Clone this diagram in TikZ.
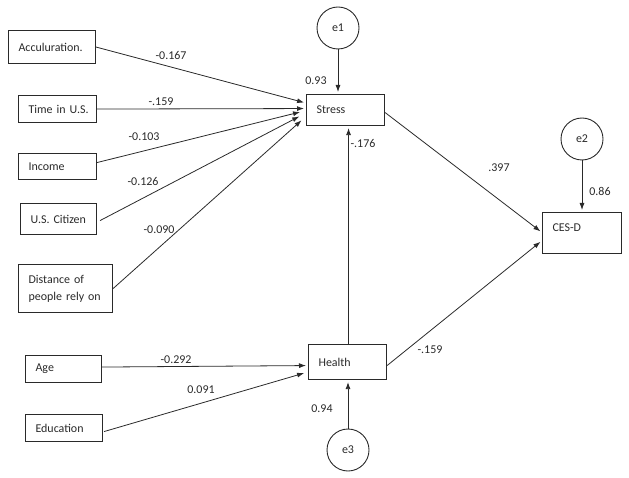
\documentclass[tikz,border=0pt]{standalone}
\usepackage{fontspec}
\setmainfont{Carlito}
\usetikzlibrary{arrows.meta,calc}
\definecolor{ink}{HTML}{2A2A2A}
\frenchspacing
\tikzset{
  box/.style={draw=ink, line width=1.1bp, anchor=north west, align=left,
    inner xsep=10bp, inner ysep=2bp, font=\fontsize{12}{17}\selectfont\frenchspacing, text=ink},
  err/.style={draw=ink, line width=0.9bp, circle, minimum size=42bp, inner sep=0pt,
    font=\fontsize{12}{14}\selectfont, text=ink},
  lbl/.style={font=\fontsize{12}{14}\selectfont, text=ink, inner sep=0pt},
  path/.style={draw=ink, line width=0.8bp, -{Latex[length=7bp,width=5bp]}, shorten >=2bp}
}
\begin{document}
\begin{tikzpicture}[x=1bp,y=-1bp]
\useasboundingbox (0,0) rectangle (629,478);
% exogenous boxes
\node[box, text width=67bp, minimum height=33bp] (acc) at (8,30) {\mbox{Acculuration.}};
\node[box, text width=58bp, minimum height=27bp] (time) at (18,95) {\mbox{Time in U.S.}};
\node[box, text width=58bp, minimum height=26bp] (inc) at (18,153) {Income};
\node[box, text width=56bp, minimum height=31bp] (cit) at (20,203) {\mbox{U.S.\ Citizen}};
\node[box, text width=74bp, minimum height=48bp] (dist) at (18,264) {Distance of\\people rely on};
\node[box, text width=56bp, minimum height=27bp] (age) at (25,355) {Age};
\node[box, text width=57bp, minimum height=27bp] (edu) at (25,414) {Education};
% endogenous
\node[box, text width=58bp, minimum height=31bp] (stress) at (306,94) {Stress};
\node[box, text width=58bp, minimum height=35bp] (health) at (308,344) {Health};
\node[box, text width=59bp, minimum height=41bp, text depth=11bp] (cesd) at (542,212) {CES-D};
% errors
\node[err] (e1) at (338,28) {e1};
\node[err] (e2) at (582,139) {e2};
\node[err] (e3) at (348,450) {e3};
% paths to stress
\draw[path] (acc.east) -- ([yshift=7bp]stress.west);
\draw[path] (time.east) -- ([yshift=1.5bp]stress.west);
\draw[path] ([yshift=4bp]inc.east) -- ([xshift=-4bp,yshift=-1.5bp]stress.west);
\draw[path] ([xshift=3bp,yshift=-1.5bp]cit.east) -- ([xshift=-5bp,yshift=-5.5bp]stress.west);
\draw[path] (dist.east) -- ([xshift=-3bp,yshift=-9bp]stress.west);
% paths to health
\draw[path] ([yshift=2bp]age.east) -- ([yshift=-3.5bp]health.west);
\draw[path] ([xshift=1bp,yshift=-3.5bp]edu.east) -- ([xshift=-2bp,yshift=-10.5bp]health.west);
% health -> stress
\draw[path] ([xshift=1bp]health.north) -- ([xshift=1bp]health.north |- stress.south);
% to CES-D
\draw[path] ([yshift=-2.5bp]stress.east) -- ([yshift=0.5bp]cesd.west);
\draw[path] ([yshift=-3.5bp]health.east) -- ([yshift=-7.5bp]cesd.west);
% errors
\draw[path] (e1.south) -- (e1.south |- stress.north);
\draw[path] (e2.south) -- (e2.south |- cesd.north);
\draw[path] (e3.north) -- (e3.north |- health.south);
% labels
\node[lbl] (l1) at (171,56) {-0.167};
\node[lbl] (l2) at (161,102) {-.159};
\node[lbl] (l3) at (144,137) {-0.103};
\node[lbl] (l4) at (143,182) {-0.126};
\node[lbl] (l5) at (159,230) {-0.090};
\node[lbl] (l6) at (176,360) {-0.292};
\node[lbl] (l7) at (201,390) {0.091};
\node[lbl] (l8) at (322,409) {0.94};
\node[lbl] (l9) at (316,81) {0.93};
\node[lbl] (l10) at (363,144) {-.176};
\node[lbl] (l11) at (499,168) {.397};
\node[lbl] (l12) at (600,191) {0.86};
\node[lbl] (l13) at (430,350) {-.159};
\end{tikzpicture}
\end{document}
